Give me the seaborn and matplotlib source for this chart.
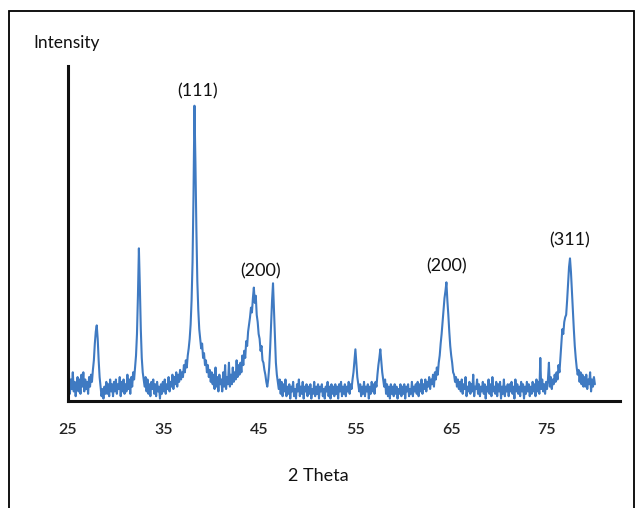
import numpy as np
import pandas as pd
import matplotlib
matplotlib.use("Agg")
import matplotlib.pyplot as plt
import seaborn as sns
from matplotlib.patches import Rectangle

# ---- data ----
theta_start, theta_step = 25.0, 0.1
intensity = [
    0.30, 0.55, 0.15, 0.45, 0.25, 0.60, 0.20, 0.40, 0.10, 0.35,   # 25
    0.50, 0.20, 0.45, 0.15, 0.55, 0.30, 0.60, 0.20, 0.45, 0.25,   # 26
    0.40, 0.15, 0.50, 0.30, 0.55, 0.40, 0.65, 0.85, 1.20, 1.45,   # 27
    1.58, 1.30, 0.85, 0.50, 0.30, 0.10, 0.25, 0.05, 0.30, 0.15,   # 28
    0.40, 0.15, 0.35, 0.10, 0.45, 0.20, 0.35, 0.10, 0.40, 0.20,   # 29
    0.45, 0.15, 0.35, 0.25, 0.50, 0.10, 0.40, 0.20, 0.45, 0.15,   # 30
    0.35, 0.20, 0.55, 0.25, 0.45, 0.15, 0.50, 0.30, 0.60, 0.45,   # 31
    0.70, 0.95, 1.40, 2.20, 3.19, 2.40, 1.50, 0.90, 0.60, 0.45,   # 32
    0.30, 0.50, 0.20, 0.45, 0.15, 0.35, 0.10, 0.40, 0.25, 0.45,   # 33
    0.15, 0.35, 0.10, 0.40, 0.20, 0.30, 0.05, 0.35, 0.15, 0.40,   # 34
    0.20, 0.45, 0.15, 0.35, 0.25, 0.50, 0.20, 0.40, 0.30, 0.55,   # 35
    0.25, 0.50, 0.35, 0.60, 0.30, 0.55, 0.40, 0.65, 0.45, 0.60,   # 36
    0.50, 0.75, 0.60, 0.85, 0.70, 0.95, 1.10, 1.30, 1.60, 2.10,   # 37
    2.90, 4.30, 6.17, 5.00, 3.60, 2.50, 1.90, 1.50, 1.30, 1.10,   # 38
    1.20, 0.90, 1.00, 0.75, 0.85, 0.60, 0.75, 0.50, 0.65, 0.40,   # 39
    0.60, 0.35, 0.55, 0.25, 0.70, 0.30, 0.50, 0.20, 0.55, 0.35,   # 40
    0.45, 0.20, 0.60, 0.30, 0.75, 0.25, 0.50, 0.35, 0.80, 0.30,   # 41
    0.55, 0.35, 0.70, 0.40, 0.60, 0.45, 0.85, 0.50, 0.75, 0.55,   # 42
    0.80, 0.60, 0.95, 0.75, 1.05, 0.90, 1.25, 1.15, 1.45, 1.60,   # 43
    1.75, 1.95, 1.85, 2.15, 2.37, 2.05, 2.20, 1.80, 1.65, 1.40,   # 44
    1.30, 1.05, 1.15, 0.85, 0.80, 0.65, 0.55, 0.40, 0.30, 0.45,   # 45
    0.70, 1.10, 1.60, 2.10, 2.46, 1.90, 1.30, 0.80, 0.55, 0.40,   # 46
    0.25, 0.45, 0.15, 0.40, 0.10, 0.35, 0.20, 0.45, 0.10, 0.30,   # 47
    0.15, 0.35, 0.05, 0.30, 0.20, 0.40, 0.10, 0.25, 0.05, 0.35,   # 48
    0.20, 0.45, 0.10, 0.30, 0.15, 0.40, 0.05, 0.30, 0.20, 0.35,   # 49
    0.10, 0.30, 0.15, 0.35, 0.05, 0.25, 0.15, 0.40, 0.10, 0.30,   # 50
    0.15, 0.35, 0.05, 0.30, 0.20, 0.35, 0.10, 0.25, 0.05, 0.30,   # 51
    0.20, 0.40, 0.10, 0.30, 0.05, 0.35, 0.15, 0.30, 0.10, 0.35,   # 52
    0.15, 0.30, 0.05, 0.35, 0.20, 0.40, 0.10, 0.30, 0.15, 0.35,   # 53
    0.10, 0.30, 0.20, 0.40, 0.15, 0.35, 0.25, 0.45, 0.60, 0.85,   # 54
    1.08, 0.80, 0.50, 0.35, 0.20, 0.35, 0.10, 0.30, 0.15, 0.40,   # 55
    0.10, 0.30, 0.20, 0.35, 0.05, 0.30, 0.15, 0.40, 0.20, 0.35,   # 56
    0.15, 0.40, 0.30, 0.55, 0.75, 0.90, 1.08, 0.85, 0.60, 0.45,   # 57
    0.30, 0.45, 0.15, 0.35, 0.10, 0.30, 0.05, 0.35, 0.15, 0.30,   # 58
    0.10, 0.35, 0.15, 0.30, 0.05, 0.25, 0.15, 0.35, 0.10, 0.30,   # 59
    0.15, 0.35, 0.05, 0.30, 0.20, 0.35, 0.10, 0.25, 0.15, 0.40,   # 60
    0.10, 0.30, 0.20, 0.35, 0.15, 0.40, 0.10, 0.35, 0.20, 0.45,   # 61
    0.15, 0.35, 0.25, 0.45, 0.20, 0.40, 0.30, 0.50, 0.25, 0.45,   # 62
    0.35, 0.55, 0.30, 0.60, 0.45, 0.70, 0.55, 0.80, 0.95, 1.20,   # 63
    1.40, 1.65, 1.90, 2.15, 2.30, 2.48, 2.10, 1.80, 1.45, 1.15,   # 64
    0.95, 0.80, 0.60, 0.55, 0.40, 0.50, 0.30, 0.45, 0.25, 0.40,   # 65
    0.20, 0.45, 0.15, 0.35, 0.25, 0.50, 0.10, 0.30, 0.20, 0.40,   # 66
    0.15, 0.35, 0.20, 0.55, 0.10, 0.30, 0.25, 0.45, 0.15, 0.35,   # 67
    0.10, 0.30, 0.20, 0.40, 0.15, 0.35, 0.05, 0.30, 0.20, 0.45,   # 68
    0.15, 0.35, 0.10, 0.50, 0.20, 0.30, 0.15, 0.40, 0.10, 0.35,   # 69
    0.20, 0.40, 0.05, 0.30, 0.15, 0.45, 0.10, 0.30, 0.20, 0.35,   # 70
    0.10, 0.35, 0.20, 0.40, 0.15, 0.30, 0.05, 0.45, 0.20, 0.35,   # 71
    0.15, 0.30, 0.10, 0.40, 0.20, 0.35, 0.05, 0.30, 0.15, 0.40,   # 72
    0.20, 0.35, 0.10, 0.30, 0.15, 0.40, 0.20, 0.35, 0.10, 0.45,   # 73
    0.20, 0.40, 0.15, 0.90, 0.25, 0.45, 0.20, 0.35, 0.15, 0.40,   # 74
    0.25, 0.45, 0.80, 0.30, 0.50, 0.25, 0.45, 0.35, 0.55, 0.40,   # 75
    0.60, 0.45, 0.75, 0.60, 0.90, 1.20, 1.50, 1.40, 1.65, 1.75,   # 76
    1.80, 2.10, 2.45, 2.80, 2.98, 2.70, 2.30, 1.90, 1.50, 1.15,   # 77
    0.90, 0.70, 0.55, 0.65, 0.40, 0.60, 0.35, 0.55, 0.30, 0.50,   # 78
    0.30, 0.55, 0.25, 0.45, 0.35, 0.60, 0.20, 0.45, 0.30, 0.50,   # 79
    0.35,                                                         # 80
]
two_theta = theta_start + theta_step * np.arange(len(intensity))

x_ticks = [25, 35, 45, 55, 65, 75]
peak_labels = ["(111)", "(200)", "(200)", "(311)"]
peak_label_x = [38.55, 45.15, 64.55, 77.4]
peak_label_y = [6.48, 2.71, 2.81, 3.35]

df = pd.DataFrame({"2 Theta": two_theta, "Intensity": intensity})

# ---- drawing ----
sns.set_style("white")
plt.rcParams["font.family"] = ["Lato", "DejaVu Sans"]

fig = plt.figure(figsize=(6.39, 5.08), dpi=100)
ax = fig.add_axes([68 / 639, 1 - 401 / 508, (620 - 68) / 639, (401 - 66) / 508])

sns.lineplot(data=df, x="2 Theta", y="Intensity", ax=ax,
             color="#3F7AC2", linewidth=1.5)

ax.set_xlim(25, 25 + (620 - 68) / 9.58)
ax.set_ylim(0, 7)
ax.set_xticks(x_ticks)
ax.set_xticklabels([str(t) for t in x_ticks], fontsize=11.5, color="#222222",
                   fontweight="semibold")
ax.set_yticks(range(0, 8))
ax.set_yticklabels([])
ax.tick_params(axis="x", direction="out", length=4, width=1, color="#999999",
               pad=12)
ax.tick_params(axis="y", direction="out", length=3, width=1, color="#999999")
ax.set_xlabel("")
ax.set_ylabel("")
for s in ["top", "right"]:
    ax.spines[s].set_visible(False)
for s in ["left", "bottom"]:
    ax.spines[s].set_color("#111111")
    ax.spines[s].set_linewidth(2.2)

for lab, px, py in zip(peak_labels, peak_label_x, peak_label_y):
    ax.text(px, py, lab, ha="center", va="center", fontsize=13,
            color="#111111")

fig.text(33 / 639, 1 - 43 / 508, "Intensity", ha="left", va="center",
         fontsize=12.5, color="#111111")
fig.text(318 / 639, 1 - 476 / 508, "2 Theta", ha="center", va="center",
         fontsize=13, color="#111111")

fig.patches.append(Rectangle((9 / 639, -0.05), (634 - 9) / 639, 1.05 - 11 / 508,
                             transform=fig.transFigure, fill=False,
                             edgecolor="black", linewidth=1.3))

fig.savefig("out.png", dpi=100)
